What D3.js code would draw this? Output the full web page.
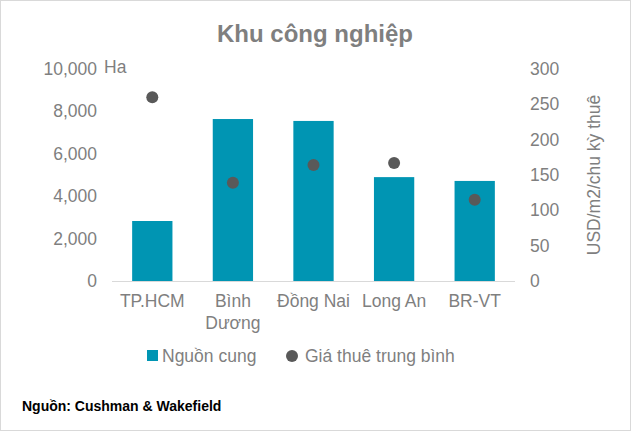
<!DOCTYPE html><html><head><meta charset="utf-8"><script src="https://cdn.jsdelivr.net/npm/d3@7"></script>
<style>body{margin:0;background:#fff}text{font-family:Arial,"Liberation Sans",sans-serif}</style></head><body><svg id="c" width="631" height="431"></svg><script>
const categories=[["TP.HCM"],["Bình","Dương"],["Đồng Nai"],["Long An"],["BR-VT"]];
const supply=[2830,7640,7550,4900,4720];
const rent=[260,139,164,167,115];
const leftTicks=[0,2000,4000,6000,8000,10000];
const rightTicks=[0,50,100,150,200,250,300];
const svg=d3.select("#c");
const fs=17.5;
svg.append("rect").attr("x",0.5).attr("y",0.5).attr("width",630).attr("height",430).attr("fill","#fff").attr("stroke","#d9d9d9");
const x=d3.scaleBand().domain(d3.range(5)).range([112,515]).paddingInner(0.5).paddingOuter(0.25);
const yL=d3.scaleLinear().domain([0,10000]).range([281,69]);
const yR=d3.scaleLinear().domain([0,300]).range([281,69]);
svg.append("text").attr("x",315).attr("y",42).attr("text-anchor","middle").attr("font-size",24).attr("font-weight","bold").attr("fill","#7f7f7f").text("Khu công nghiệp");
const gray="#7f7f7f";
leftTicks.forEach(t=>svg.append("text").attr("x",97).attr("y",yL(t)+6).attr("text-anchor","end").attr("font-size",fs).attr("fill",gray).text(d3.format(",")(t)));
rightTicks.forEach(t=>svg.append("text").attr("x",530).attr("y",yR(t)+6).attr("font-size",fs).attr("fill",gray).text(t));
svg.append("text").attr("x",104).attr("y",73).attr("font-size",fs).attr("fill",gray).text("Ha");
svg.append("text").attr("transform","translate(600,175) rotate(-90)").attr("text-anchor","middle").attr("font-size",fs).attr("fill",gray).text("USD/m2/chu kỳ thuê");
svg.selectAll(".b").data(supply).join("rect").attr("x",(d,i)=>x(i)).attr("width",x.bandwidth()).attr("y",d=>yL(d)).attr("height",d=>281-yL(d)).attr("fill","#0095b3");
svg.append("line").attr("x1",112).attr("x2",515).attr("y1",281.5).attr("y2",281.5).attr("stroke","#d9d9d9");
svg.selectAll(".d").data(rent).join("circle").attr("cx",(d,i)=>x(i)+x.bandwidth()/2).attr("cy",d=>yR(d)).attr("r",6).attr("fill","#595959");
categories.forEach((c,i)=>c.forEach((l,j)=>svg.append("text").attr("x",x(i)+x.bandwidth()/2).attr("y",307+j*22).attr("text-anchor","middle").attr("font-size",fs).attr("fill",gray).text(l)));
svg.append("rect").attr("x",147).attr("y",350).attr("width",11).attr("height",11).attr("fill","#0095b3");
svg.append("text").attr("x",162).attr("y",362).attr("font-size",fs).attr("fill",gray).text("Nguồn cung");
svg.append("circle").attr("cx",292).attr("cy",356).attr("r",6).attr("fill","#595959");
svg.append("text").attr("x",305).attr("y",362).attr("font-size",fs).attr("fill",gray).text("Giá thuê trung bình");
svg.append("text").attr("x",22).attr("y",411).attr("font-size",14).attr("font-weight","bold").attr("fill","#000").text("Nguồn: Cushman & Wakefield");
</script></body></html>
